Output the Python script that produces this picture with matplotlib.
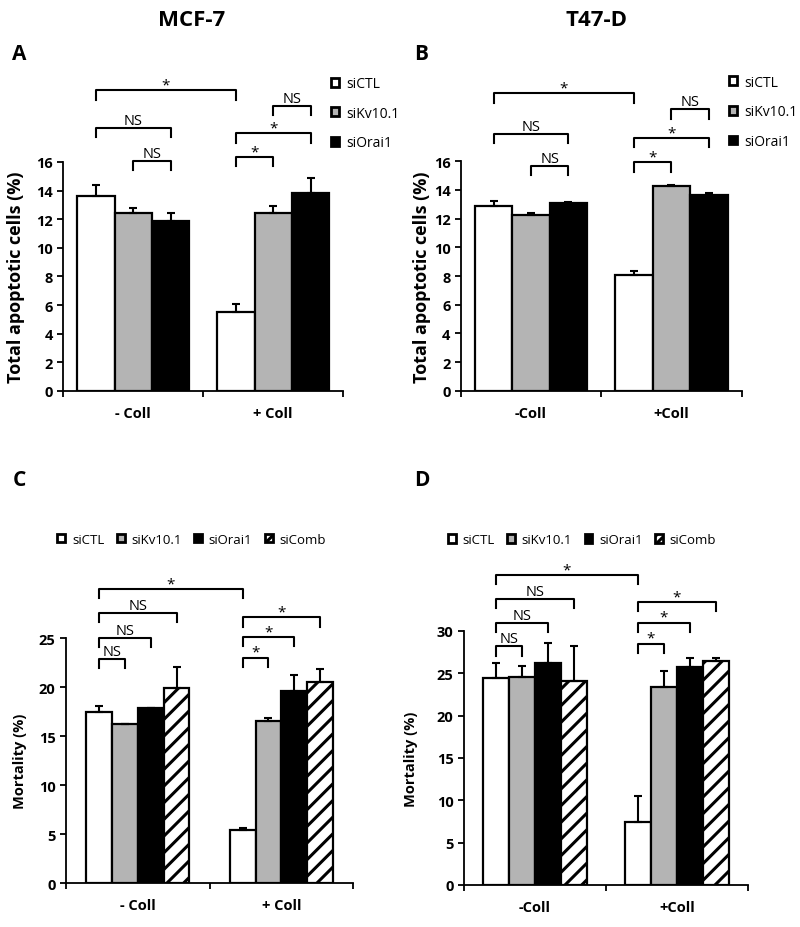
import matplotlib
matplotlib.use("Agg")
import matplotlib.pyplot as plt
from matplotlib.patches import Patch
import numpy as np

plt.rcParams['font.family'] = ['Open Sans', 'DejaVu Sans']
plt.rcParams['hatch.linewidth'] = 2.2

# ---------------- data ----------------
series_ab = ["siCTL", "siKv10.1", "siOrai1"]
series_cd = ["siCTL", "siKv10.1", "siOrai1", "siComb"]
cats_ac = ["- Coll", "+ Coll"]
cats_bd = ["-Coll", "+Coll"]

# Panel A (MCF-7 apoptosis) rows: series, cols: -Coll, +Coll
a_vals = [[13.6, 5.55], [12.4, 12.45], [11.85, 13.8]]
a_errs = [[0.8, 0.55], [0.35, 0.45], [0.6, 1.05]]
# Panel B (T47-D apoptosis)
b_vals = [[12.9, 8.1], [12.25, 14.25], [13.05, 13.65]]
b_errs = [[0.3, 0.25], [0.1, 0.1], [0.1, 0.15]]
# Panel C (MCF-7 mortality)
c_vals = [[17.45, 5.45], [16.2, 16.55], [17.9, 19.6], [19.95, 20.5]]
c_errs = [[0.6, 0.2], [0.0, 0.3], [0.0, 1.6], [2.1, 1.3]]
# Panel D (T47-D mortality)
d_vals = [[24.5, 7.4], [24.6, 23.4], [26.2, 25.8], [24.1, 26.5]]
d_errs = [[1.7, 3.1], [1.3, 1.9], [2.4, 1.0], [4.1, 0.3]]

a_ticks = [0, 2, 4, 6, 8, 10, 12, 14, 16]
b_ticks = [0, 2, 4, 6, 8, 10, 12, 14, 16]
c_ticks = [0, 5, 10, 15, 20, 25]
d_ticks = [0, 5, 10, 15, 20, 25, 30]

# significance brackets: (group, series) start, (group, series) end, top y, label
a_sig = [((0, 0), (1, 0), 21.0, "*"), ((0, 0), (0, 2), 18.4, "NS"), ((0, 1), (0, 2), 16.1, "NS"),
         ((1, 1), (1, 2), 19.9, "NS"), ((1, 0), (1, 2), 18.0, "*"), ((1, 0), (1, 1), 16.35, "*")]
b_sig = [((0, 0), (1, 0), 20.7, "*"), ((0, 0), (0, 2), 17.9, "NS"), ((0, 1), (0, 2), 15.65, "NS"),
         ((1, 1), (1, 2), 19.6, "NS"), ((1, 0), (1, 2), 17.6, "*"), ((1, 0), (1, 1), 15.9, "*")]
c_sig = [((0, 0), (1, 0), 30.0, "*"), ((0, 0), (0, 3), 27.55, "NS"), ((0, 0), (0, 2), 25.0, "NS"),
         ((0, 0), (0, 1), 22.9, "NS"), ((1, 0), (1, 3), 27.1, "*"), ((1, 0), (1, 2), 25.1, "*"),
         ((1, 0), (1, 1), 23.0, "*")]
d_sig = [((0, 0), (1, 0), 36.6, "*"), ((0, 0), (0, 3), 33.8, "NS"), ((0, 0), (0, 2), 31.0, "NS"),
         ((0, 0), (0, 1), 28.2, "NS"), ((1, 0), (1, 3), 33.4, "*"), ((1, 0), (1, 2), 31.0, "*"),
         ((1, 0), (1, 1), 28.5, "*")]

faces = ["white", "#b4b4b4", "black", "white"]
hatches = [None, None, None, "//"]
leg_hatches = [None, None, None, "////"]

fig = plt.figure(figsize=(8, 9.28), dpi=100)


def panel(rect, series, cats, vals, errs, ticks, sig, leg, ylabel, ylab_size, ylab_x, width,
          legend_mode, legend_anchor):
    ax = fig.add_axes(rect)
    n = len(series)
    x = np.arange(len(cats))
    centers = {}
    for i in range(n):
        off = (i - (n - 1) / 2) * width
        xs = x + off
        ax.bar(xs, vals[i], width=width, color=faces[i], edgecolor="black", linewidth=1.6,
               hatch=hatches[i], zorder=2)
        e = np.array(errs[i])
        ax.errorbar(xs, vals[i], yerr=[np.zeros_like(e), e], fmt="none", ecolor="black",
                    elinewidth=1.5, capsize=3, capthick=1.5, zorder=3)
        for g in range(len(cats)):
            centers[(g, i)] = xs[g]
    ax.set_xlim(-0.5, len(cats) - 0.5)
    ax.set_ylim(0, ticks[-1])
    ax.set_yticks(ticks)
    ax.set_yticklabels([str(t) for t in ticks], fontweight="bold", fontsize=10.5)
    ax.set_xticks([-0.5, 0.5, 1.5])
    ax.set_xticklabels([])
    ax.set_xticks(x, minor=True)
    ax.set_xticklabels(cats, minor=True, fontweight="bold", fontsize=10.5)
    ax.tick_params(axis="x", which="minor", length=0, pad=11)
    ax.tick_params(axis="both", which="major", length=4, width=1.3, direction="out")
    for s in ["top", "right"]:
        ax.spines[s].set_visible(False)
    for s in ["left", "bottom"]:
        ax.spines[s].set_linewidth(1.3)
    ax.set_ylabel(ylabel, fontweight="bold", fontsize=ylab_size)
    ax.yaxis.set_label_coords(ylab_x, 0.5)

    for (s0, s1, ytop, lab) in sig:
        x0 = centers[s0]
        x1 = centers[s1]
        ax.plot([x0, x0, x1, x1], [ytop - leg, ytop, ytop, ytop - leg], color="black",
                lw=1.5, clip_on=False, zorder=4)
        if lab == "NS":
            ax.annotate(lab, xy=((x0 + x1) / 2, ytop), xytext=(0, 0), textcoords="offset points",
                        ha="center", va="bottom", fontsize=10.5, annotation_clip=False)
        else:
            ax.annotate(lab, xy=((x0 + x1) / 2, ytop), xytext=(0, -1.5), textcoords="offset points",
                        ha="center", va="bottom", fontsize=11, annotation_clip=False)

    handles = [Patch(facecolor=faces[i], edgecolor="black", linewidth=2.0, hatch=leg_hatches[i])
               for i in range(n)]
    if legend_mode == "vertical":
        ax.legend(handles, series, loc="upper left", bbox_to_anchor=legend_anchor, frameon=False,
                  fontsize=10, handlelength=0.6, handleheight=0.6, handletextpad=0.5,
                  labelspacing=1.05, borderpad=0, borderaxespad=0)
    else:
        ax.legend(handles, series, loc="upper left", bbox_to_anchor=legend_anchor, frameon=False,
                  fontsize=9.5, handlelength=0.6, handleheight=0.6, handletextpad=0.5,
                  ncol=n, columnspacing=0.95, borderpad=0, borderaxespad=0)
    return ax


panel([0.079, 0.5776, 0.35, 0.2468], series_ab, cats_ac, a_vals, a_errs, a_ticks, a_sig, 0.65,
      "Total apoptotic cells (%)", 13, -0.136, 0.267, "vertical", (0.955, 1.375))
panel([0.576, 0.5776, 0.351, 0.2478], series_ab, cats_bd, b_vals, b_errs, b_ticks, b_sig, 0.65,
      "Total apoptotic cells (%)", 13, -0.107, 0.267, "vertical", (0.955, 1.375))
panel([0.0825, 0.0474, 0.359, 0.264], series_cd, cats_ac, c_vals, c_errs, c_ticks, c_sig, 0.95,
      "Mortality (%)", 10.5, -0.136, 0.18, "horizontal", (-0.03, 1.43))
panel([0.58, 0.0453, 0.355, 0.2737], series_cd, cats_bd, d_vals, d_errs, d_ticks, d_sig, 1.1,
      "Mortality (%)", 10.5, -0.162, 0.183, "horizontal", (-0.057, 1.385))

fig.text(192 / 800, 1 - 20 / 928, "MCF-7", ha="center", va="center", fontsize=16, fontweight="bold")
fig.text(597 / 800, 1 - 20 / 928, "T47-D", ha="center", va="center", fontsize=16, fontweight="bold")
for lab, xx, yy in [("A", 19, 54), ("B", 421, 54), ("C", 19, 480), ("D", 422, 480)]:
    fig.text(xx / 800, 1 - yy / 928, lab, ha="center", va="center", fontsize=15, fontweight="bold")

fig.savefig("out.png", dpi=100)
